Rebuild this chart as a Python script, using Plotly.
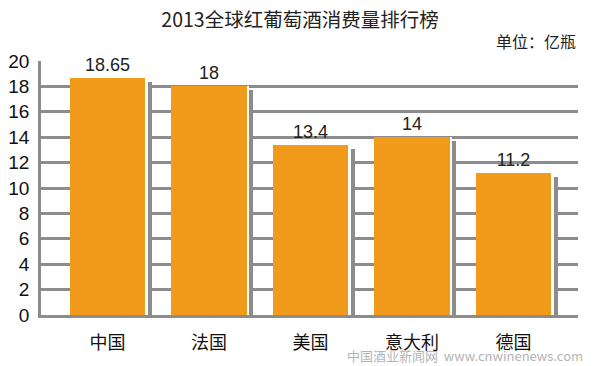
import plotly.graph_objects as go

countries = ["中国", "法国", "美国", "意大利", "德国"]
values = [18.65, 18, 13.4, 14, 11.2]
value_labels = ["18.65", "18", "13.4", "14", "11.2"]
y_ticks = [0, 2, 4, 6, 8, 10, 12, 14, 16, 18, 20]

ORANGE = "#F29B1A"
GRAY = "#8C8C8C"
FONT = "Liberation Sans, Arial, Noto Sans CJK SC"
CJK = "Noto Sans CJK SC, Liberation Sans"

shadow_drop = 0.3
shadow_vals = [v - shadow_drop for v in values]

fig = go.Figure()
# white gap between bar and shadow (hides gridlines)
fig.add_trace(go.Bar(x=countries, y=values, width=0.03, offset=0.368,
                     marker=dict(color="white", line=dict(width=0)),
                     hoverinfo="skip", showlegend=False))
# shadow
fig.add_trace(go.Bar(x=countries, y=shadow_vals, width=0.038, offset=0.396,
                     marker=dict(color=GRAY, line=dict(width=0)),
                     hoverinfo="skip", showlegend=False))
# main bars
fig.add_trace(go.Bar(x=countries, y=values, width=0.74, offset=-0.37,
                     marker=dict(color=ORANGE, line=dict(width=0)),
                     text=value_labels, textposition="outside",
                     textfont=dict(size=18, color="#222222", family=FONT),
                     cliponaxis=False, showlegend=False))

fig.update_layout(
    width=600, height=366,
    margin=dict(l=41, r=22, t=61, b=51, autoexpand=False),
    paper_bgcolor="white", plot_bgcolor="white",
    barmode="overlay",
    bargap=0,
    title=dict(text="2013全球红葡萄酒消费量排行榜", x=0.5, xanchor="center",
               y=0.944, yanchor="middle",
               font=dict(size=19.5, color="#222222", family=CJK)),
    xaxis=dict(range=[-0.655, 4.635], showgrid=False, zeroline=False,
               showline=True, linecolor=GRAY, linewidth=3, automargin=False,
               ticks="", tickfont=dict(size=18, color="#111111", family=CJK),
               ticklabelstandoff=9),
    yaxis=dict(range=[0, 20], tickvals=y_ticks, showgrid=True, automargin=False,
               gridcolor=GRAY, gridwidth=2.5, zeroline=False,
               showline=True, linecolor=GRAY, linewidth=2.5,
               ticks="", tickfont=dict(size=19, color="#111111", family=FONT),
               ticklabelstandoff=5),
    annotations=[
        dict(text="单位：亿瓶", xref="paper", yref="paper", x=1.0, y=1.022,
             xanchor="right", yanchor="bottom", showarrow=False,
             font=dict(size=16, color="#222222", family=CJK)),
        dict(text="中国酒业新闻网  www.cnwinenews.com", xref="paper", yref="paper",
             x=1.013, y=-0.158, xanchor="right", yanchor="middle", showarrow=False,
             font=dict(size=13, color="#B4B4B4", family=CJK)),
    ],
)

fig.write_html("out.html", config={"displayModeBar": False},
               post_script="document.body.style.margin='0';document.body.style.overflow='hidden';")
